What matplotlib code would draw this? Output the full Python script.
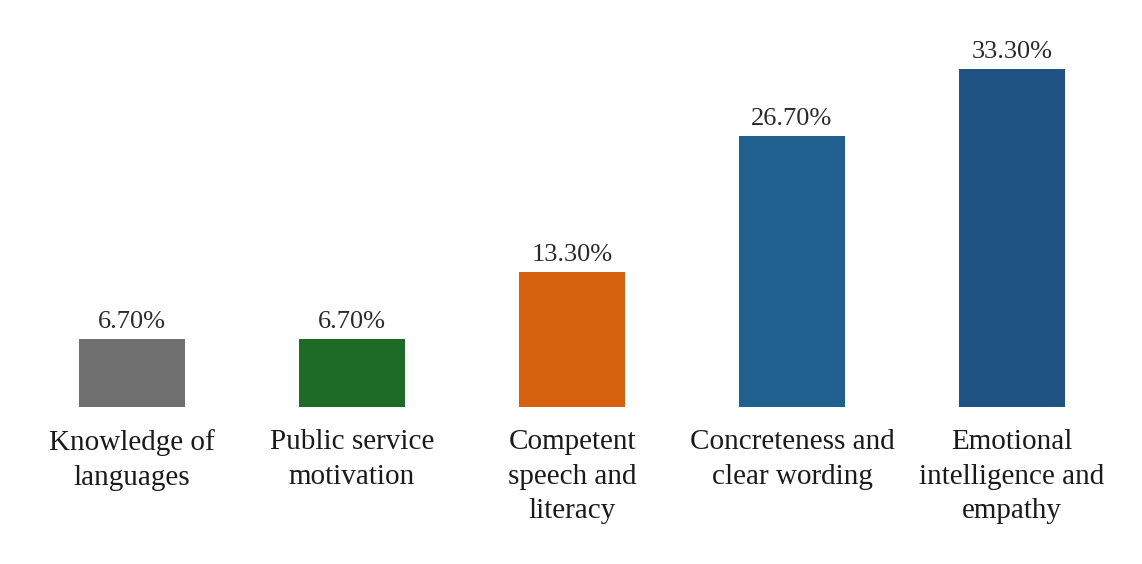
import matplotlib
matplotlib.use('Agg')
import matplotlib.pyplot as plt

categories = ['Knowledge of\nlanguages', 'Public service\nmotivation',
              'Competent\nspeech and\nliteracy', 'Concreteness and\nclear wording',
              'Emotional\nintelligence and\nempathy']
values = [6.7, 6.7, 13.3, 26.7, 33.3]
colors = ['#6f6f6f', '#1d6b27', '#d5610f', '#20608e', '#1f5384']

plt.rcParams['font.family'] = ['Liberation Serif', 'DejaVu Serif']

fig = plt.figure(figsize=(11.42, 5.64), dpi=100)
ax = fig.add_axes([22 / 1142, 157 / 564, 1100 / 1142, 387 / 564])

x = list(range(len(values)))
bars = ax.bar(x, values, width=0.48, color=colors)
for b, v in zip(bars, values):
    ax.annotate('%.2f%%' % v, (b.get_x() + b.get_width() / 2, v),
                xytext=(0, 4), textcoords='offset points',
                ha='center', va='bottom', fontsize=19, color='#2a2a2a')

ax.set_xlim(-0.5, 4.5)
ax.set_ylim(0, 38.1)
ax.set_xticks(x)
ax.set_xticklabels(categories, fontsize=21, linespacing=1.42, color='#1a1a1a')
ax.tick_params(axis='x', length=0, pad=16)
ax.set_yticks([])
for s in ax.spines.values():
    s.set_visible(False)

fig.savefig('out.png', dpi=100)
